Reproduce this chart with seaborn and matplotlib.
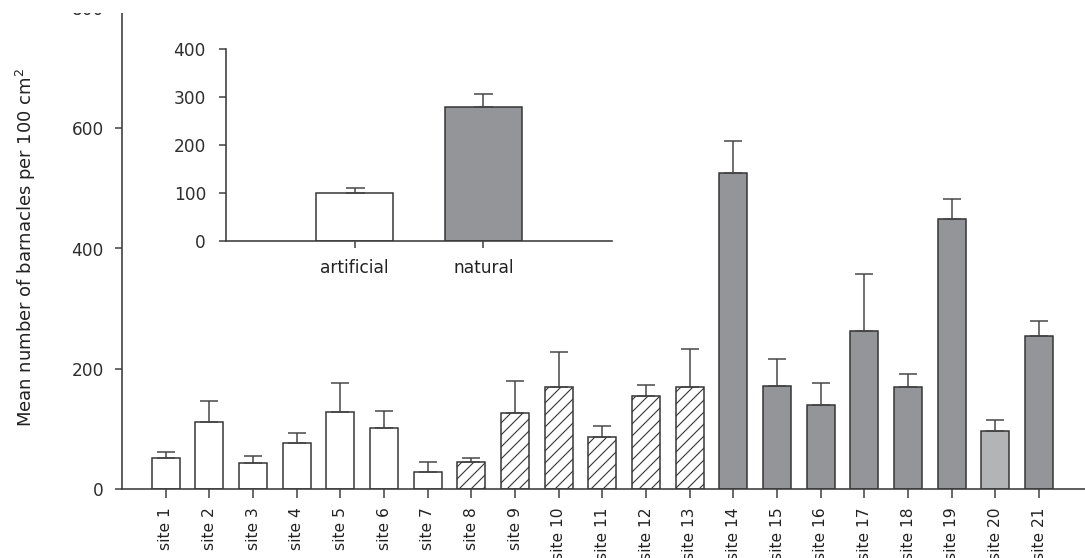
import numpy as np
import pandas as pd
import matplotlib
matplotlib.use("Agg")
import matplotlib.pyplot as plt
from matplotlib.patches import Rectangle
import seaborn as sns

# Per-site mean barnacle density and standard error
sites = [f"site {i}" for i in range(1, 22)]
site_means = [51, 111, 43, 77, 128, 101, 29, 45, 126, 169, 86, 155, 169,
              526, 172, 139, 262, 170, 449, 96, 254]
site_errors = [10, 36, 12, 16, 49, 29, 16, 6, 53, 59, 19, 18, 64,
               52, 44, 38, 95, 22, 33, 19, 26]
# Substrate groups: open = artificial, hatched = artificial (second type), grey = natural
site_groups = ["open"] * 7 + ["hatched"] * 6 + ["natural"] * 6 + ["natural_light"] + ["natural"]

# Pooled means by substrate type (inset)
substrates = ["artificial", "natural"]
substrate_means = [100, 280]
substrate_errors = [11, 26]

group_colors = {"open": "#ffffff", "hatched": "#ffffff",
                "natural": "#939598", "natural_light": "#b3b4b6"}

sns.set_theme(style="white")
plt.rcParams["font.family"] = ["DejaVu Sans"]
plt.rcParams["hatch.linewidth"] = 1.1
plt.rcParams["hatch.color"] = "#3a3a3a"

DPI = 72
W, H = 1085, 558
fig = plt.figure(figsize=(W / DPI, H / DPI), dpi=DPI)
fig.patch.set_facecolor("white")

edge = "#333333"
axis_col = "#3c3c3c"
tick_txt = "#2e2e2e"


def frac_rect(left, top, right, bottom):
    return [left / W, 1 - bottom / H, (right - left) / W, (bottom - top) / H]


def style_axes(ax):
    for s in ["top", "right"]:
        ax.spines[s].set_visible(False)
    for s in ["left", "bottom"]:
        ax.spines[s].set_color(axis_col)
        ax.spines[s].set_linewidth(1.6)
    ax.grid(False)
    ax.set_facecolor("white")


# ---- main panel ----
ax = fig.add_axes(frac_rect(122, 8, 1085, 489))
df = pd.DataFrame({"site": sites, "mean": site_means, "group": site_groups})
palette = [group_colors[g] for g in site_groups]
sns.barplot(data=df, x="site", y="mean", hue="site", palette=palette,
            legend=False, saturation=1, width=0.64, errorbar=None,
            edgecolor=edge, linewidth=1.5, ax=ax)
for patch, g in zip(ax.patches, site_groups):
    if g == "hatched":
        patch.set_hatch("//")
ax.errorbar(np.arange(len(sites)), site_means,
            yerr=[np.zeros(len(sites)), site_errors], fmt="none",
            ecolor="#444444", elinewidth=1.5, capsize=9, capthick=1.5, zorder=1)
style_axes(ax)
ax.set_xlim(-1.0, 21.05)
ax.set_ylim(0, 800)
ax.set_yticks([0, 200, 400, 600, 800])
ax.set_xlabel("")
ax.set_ylabel("")
ax.tick_params(axis="x", direction="out", length=9, width=1.5, color=axis_col,
               pad=9, labelsize=15.5, labelcolor="#222222", rotation=90, bottom=True)
ax.tick_params(axis="y", direction="out", length=7, width=1.5, color=axis_col,
               pad=11, labelsize=17, labelcolor=tick_txt, left=True)
for lab in ax.get_xticklabels():
    lab.set_verticalalignment("top")

fig.text(26 / W, 1 - 247 / H, "Mean number of barnacles per 100 cm$^2$",
         rotation=90, ha="center", va="center", fontsize=18, color="#222222")

# ---- inset: artificial vs natural ----
ax2 = fig.add_axes(frac_rect(226, 49, 612, 241))
df2 = pd.DataFrame({"substrate": substrates, "mean": substrate_means})
sns.barplot(data=df2, x="substrate", y="mean", hue="substrate",
            palette=["#ffffff", "#939598"], legend=False, saturation=1,
            width=0.6, errorbar=None, edgecolor=edge, linewidth=1.5, ax=ax2)
ax2.errorbar(np.arange(len(substrates)), substrate_means,
             yerr=[np.zeros(len(substrates)), substrate_errors], fmt="none",
             ecolor="#444444", elinewidth=1.5, capsize=9.5, capthick=1.5, zorder=1)
style_axes(ax2)
ax2.set_xlim(-1.0, 2.0)
ax2.set_ylim(0, 400)
ax2.set_yticks([0, 100, 200, 300, 400])
ax2.set_xlabel("")
ax2.set_ylabel("")
ax2.tick_params(axis="x", direction="out", length=7, width=1.5, color=axis_col,
                pad=11, labelsize=17, labelcolor="#222222", bottom=True)
ax2.tick_params(axis="y", direction="out", length=7, width=1.5, color=axis_col,
                pad=13, labelsize=17, labelcolor=tick_txt, left=True)

# Page margin: the sheet is trimmed just above the top of the axis
fig.patches.append(Rectangle((0, 1 - 12.5 / H), 1, 12.5 / H, transform=fig.transFigure,
                             facecolor="white", edgecolor="none", zorder=10))

fig.savefig("out.png", dpi=DPI, facecolor="white")
